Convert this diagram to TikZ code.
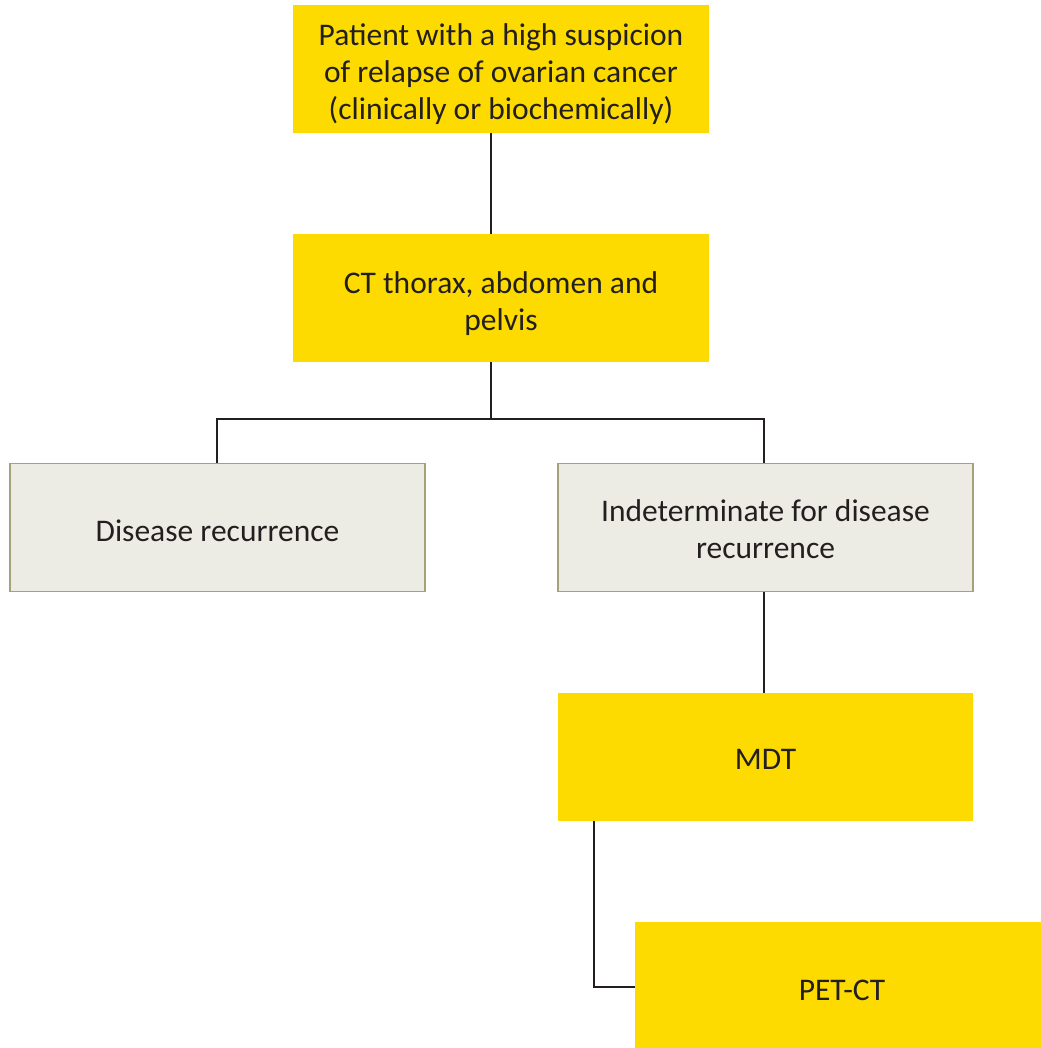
\documentclass[tikz,border=0pt]{standalone}
\usepackage{fontspec}
\setmainfont{Carlito}
\definecolor{ylw}{HTML}{FDDA00}
\definecolor{gfill}{HTML}{EDECE4}
\definecolor{gedge}{HTML}{A3A27A}
\definecolor{lnc}{HTML}{231F20}
\begin{document}
\begin{tikzpicture}[x=1bp,y=-1bp,
  box/.style={minimum width=416bp, minimum height=128bp, inner sep=0pt},
  ybox/.style={box, fill=ylw},
  gbox/.style={box, fill=gfill, draw=gedge, line width=1.5bp},
  txt/.style={inner sep=0pt, align=center, font=\fontsize{31.5bp}{37bp}\selectfont, text=lnc},
  conn/.style={draw=lnc, line width=2.7bp}]
\useasboundingbox (0,0) rectangle (1041,1048);
\node[ybox] (top) at (501,69) {};
\node[ybox] (ct) at (501,298) {};
\node[gbox, minimum width=415bp] (dr) at (217.5,527.5) {};
\node[gbox, minimum width=415bp] (ind) at (765.5,527.5) {};
\node[ybox, minimum width=415bp] (mdt) at (765.5,757) {};
\node[ybox, minimum width=406bp, minimum height=126bp] (pet) at (838,985) {};
\node[txt] (topt) at ([yshift=-5bp]top.center) {Patient with a high suspicion\\of relapse of ovarian cancer\\(clinically or biochemically)};
\node[txt] (ctt) at ([yshift=-6bp]ct.center) {CT thorax, abdomen and\\pelvis};
\node[txt] (drt) at ([yshift=-3bp]dr.center) {Disease recurrence};
\node[txt] (indt) at ([yshift=-2bp]ind.center) {Indeterminate for disease\\recurrence};
\node[txt] (mdtt) at ([yshift=-2bp]mdt.center) {MDT};
\node[txt] (pett) at ([xshift=4bp,yshift=-5bp]pet.center) {PET-CT};
\coordinate (split) at (491,419);
\coordinate (mdtc) at (594,987);
\draw[conn] (top.south -| split) -- (ct.north -| split);
\draw[conn] (ct.south -| split) -- (split);
\draw[conn] (dr.north -| 217,0) -- (split -| 217,0) -- (split -| 764,0) -- (ind.north -| 764,0);
\draw[conn] (ind.south -| 764,0) -- (mdt.north -| 764,0);
\draw[conn] (mdt.south -| mdtc) -- (mdtc) -- (pet.west |- mdtc);
\end{tikzpicture}
\end{document}
